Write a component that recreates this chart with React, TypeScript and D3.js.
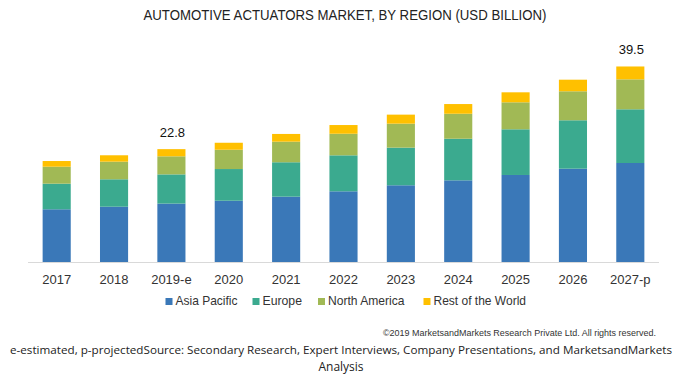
import React from 'react';
import * as d3 from 'd3';

const years = ['2017', '2018', '2019-e', '2020', '2021', '2022', '2023', '2024', '2025', '2026', '2027-p'];
const asiaPacific = [10.65, 11.17, 11.8, 12.38, 13.2, 14.28, 15.5, 16.5, 17.58, 18.85, 20.0];
const europe = [5.17, 5.54, 5.9, 6.4, 6.95, 7.27, 7.6, 8.4, 9.23, 9.78, 10.85];
const northAmerica = [3.43, 3.56, 3.65, 3.9, 4.16, 4.36, 4.85, 5.05, 5.45, 5.86, 6.05];
const restOfWorld = [1.15, 1.29, 1.45, 1.41, 1.56, 1.76, 1.82, 1.96, 2.02, 2.34, 2.6];
const seriesNames = ['Asia Pacific', 'Europe', 'North America', 'Rest of the World'];
const colors = ['#3a78b8', '#3baa8f', '#a1b955', '#ffc000'];
const labelled = [{ year: '2019-e', text: '22.8' }, { year: '2027-p', text: '39.5' }];

const width = 681;
const height = 384;

const x = d3.scaleBand().domain(years).range([28, 659]).paddingInner(0.51).paddingOuter(0.255);
const y = d3.scaleLinear().domain([0, 40]).range([262, 64]);

const rows = years.map((yr, i) => ({
    year: yr,
    'Asia Pacific': asiaPacific[i],
    'Europe': europe[i],
    'North America': northAmerica[i],
    'Rest of the World': restOfWorld[i],
}));
const stacked = d3.stack().keys(seriesNames)(rows as any);

// legend layout: square x and text width
const legendX = [165.5, 252.5, 318, 423.5];
const legendW = [62, 39.5, 76.5, 92.5];

const narrow = "'Liberation Sans Narrow', 'Arial Narrow', 'Liberation Sans', sans-serif";

const App = () => {
    return (
        <svg width={width} height={height} style={{ position: 'absolute', left: 0, top: 0, background: '#fff' }}>
            <text x={345} y={20} textAnchor="middle" fontFamily={narrow} fontSize={15} fill="#222"
                textLength={403} lengthAdjust="spacingAndGlyphs">
                AUTOMOTIVE ACTUATORS MARKET, BY REGION (USD BILLION)
            </text>

            {stacked.map((s, si) => (
                <g key={si} fill={colors[si]}>
                    {s.map((d: any, i) => (
                        <rect key={i}
                            x={x(years[i])}
                            y={y(d[1])}
                            width={x.bandwidth()}
                            height={y(d[0]) - y(d[1])} />
                    ))}
                </g>
            ))}

            <line x1={28} x2={659} y1={262.5} y2={262.5} stroke="#d9d9d9" strokeWidth={1} />

            {years.map((yr) => (
                <text key={yr} x={x(yr)! + x.bandwidth() / 2} y={284} textAnchor="middle"
                    fontFamily="'Liberation Sans', Arial, sans-serif" fontSize={13} fill="#333">
                    {yr}
                </text>
            ))}

            {labelled.map((l) => {
                const i = years.indexOf(l.year);
                const total = asiaPacific[i] + europe[i] + northAmerica[i] + restOfWorld[i];
                return (
                    <text key={l.year} x={x(l.year)! + x.bandwidth() / 2 + 1} y={y(total) - 12} textAnchor="middle"
                        fontFamily="'Liberation Sans', Arial, sans-serif" fontSize={13} fill="#111">
                        {l.text}
                    </text>
                );
            })}

            {seriesNames.map((n, i) => (
                <g key={n} transform={`translate(${legendX[i]},0)`}>
                    <rect x={0} y={298} width={7} height={7} fill={colors[i]} />
                    <text x={10} y={305} fontFamily={narrow} fontSize={13} fill="#333"
                        textLength={legendW[i]} lengthAdjust="spacingAndGlyphs">{n}</text>
                </g>
            ))}

            <text x={383} y={336} fontFamily={narrow} fontSize={9.5} fill="#333"
                textLength={273} lengthAdjust="spacingAndGlyphs">
                ©2019 MarketsandMarkets Research Private Ltd. All rights reserved.
            </text>

            <text x={341} y={354} textAnchor="middle" fontFamily="'Open Sans', sans-serif" fontSize={11} fill="#222"
                textLength={662} lengthAdjust="spacingAndGlyphs">
                e-estimated, p-projectedSource: Secondary Research, Expert Interviews, Company Presentations, and MarketsandMarkets
            </text>
            <text x={341} y={371} textAnchor="middle" fontFamily="'Open Sans', sans-serif" fontSize={12} fill="#222">
                Analysis
            </text>
        </svg>
    );
};

export default App;
